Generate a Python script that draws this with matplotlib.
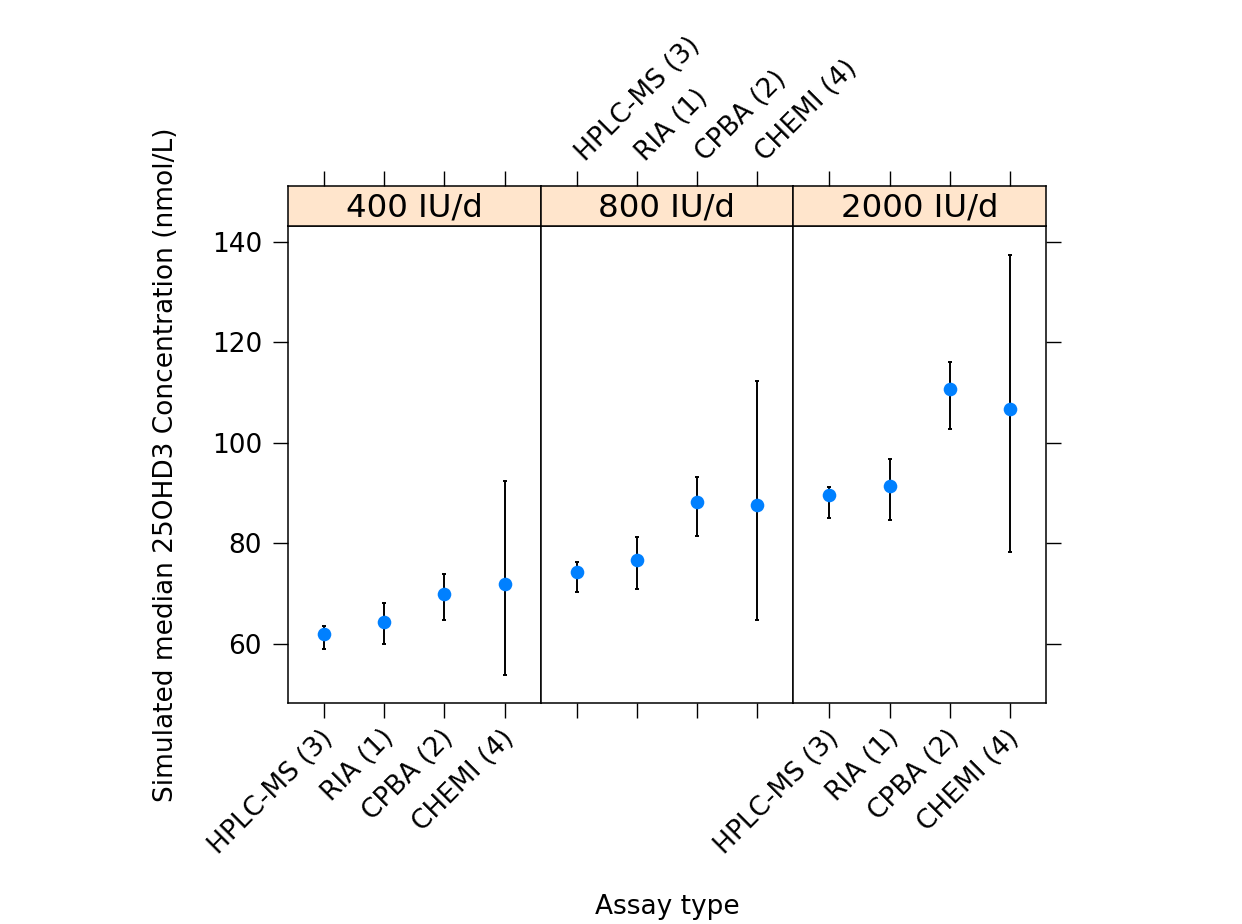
import matplotlib
matplotlib.use("Agg")
import matplotlib.pyplot as plt
import matplotlib.transforms as mtrans
import numpy as np

assays = ["HPLC-MS (3)", "RIA (1)", "CPBA (2)", "CHEMI (4)"]
doses = ["400 IU/d", "800 IU/d", "2000 IU/d"]

med_400 = [61.9, 64.4, 69.9, 71.9]
lo_400 = [59.1, 60.0, 64.8, 53.9]
hi_400 = [63.6, 68.2, 74.0, 92.4]

med_800 = [74.4, 76.6, 88.3, 87.6]
lo_800 = [70.3, 70.9, 81.5, 64.8]
hi_800 = [76.4, 81.3, 93.2, 112.3]

med_2000 = [89.6, 91.35, 110.6, 106.8]
lo_2000 = [85.0, 84.7, 102.7, 78.3]
hi_2000 = [91.3, 96.8, 116.0, 137.3]

yticks = [60, 80, 100, 120, 140]

meds = [med_400, med_800, med_2000]
los = [lo_400, lo_800, lo_2000]
his = [hi_400, hi_800, hi_2000]

W, H = 1242, 924
fig = plt.figure(figsize=(W / 100, H / 100), dpi=100)

left_px, right_px = 288, 1046
ptop_px, pbot_px, stop_px = 226, 703, 186
pw = (right_px - left_px) / 3

tick_fs = 19
strip_fs = 23.3
lab_fs = 19
ticklen = 10.8
blue = "#0080ff"
lw_frame = 1.1

x = np.arange(1, 5)
for i in range(3):
    l = (left_px + i * pw) / W
    b = 1 - pbot_px / H
    h = (pbot_px - ptop_px) / H
    ax = fig.add_axes([l, b, pw / W, h])
    med = np.array(meds[i]); lo = np.array(los[i]); hi = np.array(his[i])
    ax.errorbar(x, med, yerr=[med - lo, hi - med], fmt="none", ecolor="black",
                elinewidth=1.4, capsize=1.6, capthick=1.4, zorder=2)
    ax.plot(x, med, "o", color=blue, markersize=9.8, markeredgewidth=0, zorder=3)
    ax.set_xlim(0.4, 4.6)
    ax.set_ylim(48.27, 143.1)
    for s in ax.spines.values():
        s.set_linewidth(lw_frame)
    ax.set_xticks(x)
    ax.tick_params(axis="both", direction="out", length=ticklen, width=1.0,
                   labelsize=tick_fs, pad=5)
    ax.set_yticks(yticks)
    if i == 0:
        ax.tick_params(axis="y", left=True, right=False, labelleft=True, pad=8)
    elif i == 2:
        ax.tick_params(axis="y", left=False, right=True, labelleft=False, labelright=False)
    else:
        ax.tick_params(axis="y", left=False, right=False, labelleft=False)
    if i == 1:
        ax.set_xticklabels([])
    else:
        ax.set_xticklabels(assays, rotation=45, ha="right", va="top",
                           rotation_mode="anchor")
        off = mtrans.ScaledTranslation(-4 / 100, 0, fig.dpi_scale_trans)
        for lab in ax.get_xticklabels():
            lab.set_transform(lab.get_transform() + off)

    # strip
    sb = 1 - ptop_px / H
    sh = (ptop_px - stop_px) / H
    sax = fig.add_axes([l, sb, pw / W, sh])
    sax.set_facecolor("#ffe5cc")
    sax.set_xlim(0.4, 4.6)
    sax.set_ylim(0, 1)
    for s in sax.spines.values():
        s.set_linewidth(lw_frame)
    sax.set_yticks([])
    sax.set_xticks(x)
    sax.tick_params(axis="x", bottom=False, top=True, labelbottom=False,
                    labeltop=(i == 1), direction="out", length=ticklen,
                    width=1.0, labelsize=tick_fs, pad=7)
    if i == 1:
        sax.set_xticklabels(assays, rotation=45, ha="left", va="baseline",
                            rotation_mode="anchor")
        off = mtrans.ScaledTranslation(8 / 100, -1 / 100, fig.dpi_scale_trans)
        for lab in sax.get_xticklabels():
            lab.set_transform(lab.get_transform() + off)
    sax.text(0.5, 0.45, doses[i], transform=sax.transAxes, ha="center",
             va="center", fontsize=strip_fs)

fig.text(667 / W, 1 - 907 / H, "Assay type", ha="center", va="center",
         fontsize=lab_fs)
fig.text(166 / W, 1 - 465 / H, "Simulated median 25OHD3 Concentration (nmol/L)",
         ha="center", va="center", rotation=90, fontsize=lab_fs)

fig.savefig("out.png", dpi=100)
